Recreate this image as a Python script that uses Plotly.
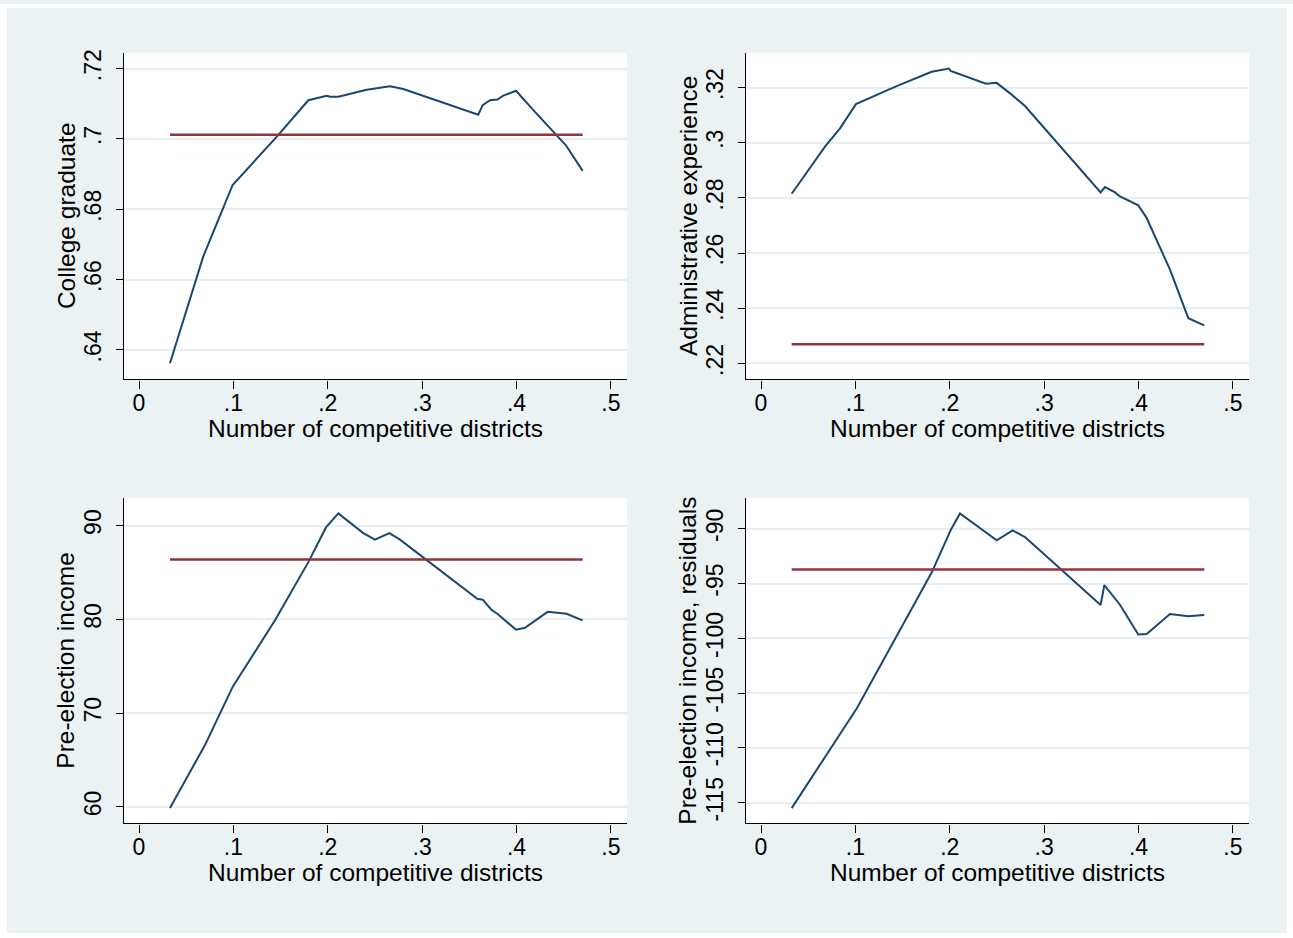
import plotly.graph_objects as go

# ---------------- data ----------------
x_college = [.0328, .0681, .0840, .0992, .1458, .1794, .1988, .2023, .2112, .2412, .2659,
             .2800, .3594, .3641, .3718, .3796, .3859, .3994, .4195, .4407, .4523, .4700]
y_college = [.6362, .6666, .6770, .6869, .7006, .7110, .7123, .7120, .7120, .7140, .7150,
             .7142, .7069, .7096, .7110, .7112, .7123, .7137, .7077, .7016, .6982, .6909]
mean_college = .7012

x_admin = [.0325, .0678, .0837, .1006, .1437, .1808, .1992, .2009, .2383, .2497, .2638,
           .2797, .3598, .3644, .3750, .3803, .3997, .4086, .4333, .4527, .4696]
y_admin = [.2815, .2986, .3052, .3140, .3205, .3257, .3269, .3260, .3214, .3217, .3179,
           .3133, .2820, .2839, .2820, .2805, .2773, .2727, .2540, .2364, .2338]
mean_admin = .2269

x_income = [.0328, .0699, .0992, .1441, .1794, .1981, .2112, .2376, .2500, .2652, .2765,
            .3584, .3641, .3736, .3796, .3994, .4089, .4329, .4530, .4700]
y_income = [59.9, 66.6, 72.8, 79.9, 86.1, 89.8, 91.3, 89.2, 88.5, 89.2, 88.5,
            82.2, 82.1, 81.0, 80.6, 78.9, 79.1, 80.8, 80.6, 79.9]
mean_income = 86.37

x_resid = [.0325, .0696, .1014, .1808, .2013, .2108, .2497, .2666, .2797, .3598, .3637,
           .3803, .3997, .4086, .4333, .4527, .4696]
y_resid = [-115.5, -110.6, -106.4, -94.0, -90.06, -88.6, -91.06, -90.15, -90.75, -96.96, -95.15,
           -96.93, -99.65, -99.6, -97.78, -97.99, -97.87]
mean_resid = -93.72

x_ticks = [0, .1, .2, .3, .4, .5]
x_tick_labels = ["0", ".1", ".2", ".3", ".4", ".5"]
college_ticks = [.64, .66, .68, .70, .72]
college_labels = [".64", ".66", ".68", ".7", ".72"]
admin_ticks = [.22, .24, .26, .28, .30, .32]
admin_labels = [".22", ".24", ".26", ".28", ".3", ".32"]
income_ticks = [60, 70, 80, 90]
income_labels = ["60", "70", "80", "90"]
resid_ticks = [-115, -110, -105, -100, -95, -90]
resid_labels = ["-115", "-110", "-105", "-100", "-95", "-90"]

x_title = "Number of competitive districts"
y_titles = ["College graduate", "Administrative experience",
            "Pre-election income", "Pre-election income, residuals"]

# ---------------- style ----------------
W, H = 1293, 938
NAVY = "#1A476F"
MAROON = "#90353B"
BG = "#EAF2F3"
GRID = "#E6EEF1"
FONT = "Liberation Sans, Arial, sans-serif"
FS_TICK = 23
FS_TITLE = 24.5

def px_x(p):
    return p / W

def px_y(p):
    return 1 - p / H

panels = [
    dict(x=x_college, y=y_college, m=mean_college, ticks=college_ticks, labels=college_labels,
         xr=(124, 627), yr=(49, 377), yrange=(.6316, .7245)),
    dict(x=x_admin, y=y_admin, m=mean_admin, ticks=admin_ticks, labels=admin_labels,
         xr=(746, 1249), yr=(49, 377), yrange=(.2142, .3326)),
    dict(x=x_income, y=y_income, m=mean_income, ticks=income_ticks, labels=income_labels,
         xr=(124, 627), yr=(496, 823), yrange=(58.24, 92.95)),
    dict(x=x_resid, y=y_resid, m=mean_resid, ticks=resid_ticks, labels=resid_labels,
         xr=(746, 1249), yr=(496, 823), yrange=(-116.9, -87.18)),
]

fig = go.Figure()
layout = {}
annotations = []
for i, p in enumerate(panels):
    n = "" if i == 0 else str(i + 1)
    xa, ya = "x" + n, "y" + n
    fig.add_trace(go.Scatter(x=p["x"], y=p["y"], mode="lines", xaxis=xa, yaxis=ya,
                             line=dict(color=NAVY, width=2), showlegend=False,
                             hoverinfo="skip"))
    fig.add_trace(go.Scatter(x=[p["x"][0], p["x"][-1]], y=[p["m"], p["m"]], mode="lines",
                             xaxis=xa, yaxis=ya, line=dict(color=MAROON, width=2.5),
                             showlegend=False, hoverinfo="skip"))
    layout["xaxis" + n] = dict(
        domain=[px_x(p["xr"][0]), px_x(p["xr"][1])], anchor=ya,
        range=[-0.0159, 0.517], tickmode="array", tickvals=x_ticks, ticktext=x_tick_labels,
        showgrid=False, zeroline=False, showline=True, linecolor="black", linewidth=1.3,
        ticks="outside", ticklen=8, tickwidth=1.3, tickcolor="black", ticklabelstandoff=-5,
        tickfont=dict(family=FONT, size=FS_TICK, color="black"), fixedrange=True)
    layout["yaxis" + n] = dict(
        domain=[px_y(p["yr"][1]), px_y(p["yr"][0])], anchor=xa,
        range=list(p["yrange"]), tickmode="array", tickvals=p["ticks"], ticktext=p["labels"],
        tickangle=-90, showgrid=True, gridcolor=GRID, gridwidth=2, zeroline=False,
        showline=True, linecolor="black", linewidth=1.3,
        ticks="outside", ticklen=7, tickwidth=1.3, tickcolor="black", ticklabelstandoff=6,
        tickfont=dict(family=FONT, size=FS_TICK, color="black"), fixedrange=True)
    cx = (p["xr"][0] + p["xr"][1]) / 2
    cy = (p["yr"][0] + p["yr"][1]) / 2
    annotations.append(dict(text=x_title, xref="paper", yref="paper",
                            x=px_x(cx), y=px_y(p["yr"][1] + 49), xanchor="center", yanchor="middle",
                            showarrow=False, font=dict(family=FONT, size=FS_TITLE, color="black")))
    annotations.append(dict(text=y_titles[i], xref="paper", yref="paper",
                            x=px_x(p["xr"][0] - 58), y=px_y(cy), xanchor="center", yanchor="middle",
                            textangle=-90, showarrow=False,
                            font=dict(family=FONT, size=FS_TITLE, color="black")))

shapes = [
    dict(type="rect", xref="paper", yref="paper", x0=0, x1=1, y0=px_y(4), y1=1,
         fillcolor="white", line=dict(width=0), layer="above"),
    dict(type="rect", xref="paper", yref="paper", x0=0, x1=1, y0=0, y1=px_y(933),
         fillcolor="white", line=dict(width=0), layer="above"),
    dict(type="rect", xref="paper", yref="paper", x0=0, x1=px_x(7), y0=0, y1=1,
         fillcolor="white", line=dict(width=0), layer="above"),
    dict(type="rect", xref="paper", yref="paper", x0=px_x(1287), x1=1, y0=0, y1=1,
         fillcolor="white", line=dict(width=0), layer="above"),
]

fig.update_layout(width=W, height=H, margin=dict(l=0, r=0, t=0, b=0),
                  paper_bgcolor=BG, plot_bgcolor="white", showlegend=False,
                  annotations=annotations, shapes=shapes, **layout)

fig.write_html("out.html", config={"displayModeBar": False})
